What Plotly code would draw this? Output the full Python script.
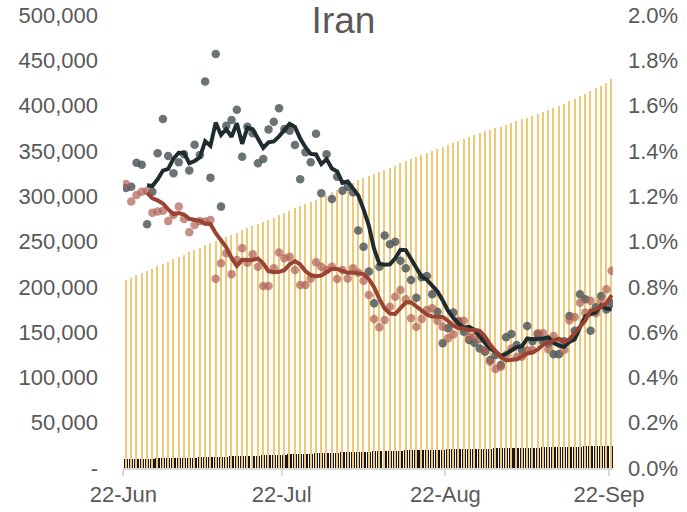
import pandas as pd
import plotly.graph_objects as go

start = "2020-06-22"
n_days = 93

cum_cases = [
    207525, 209970, 212501, 215096, 217724, 220180, 222669, 225205, 227662,
    230211, 232863, 235429, 237878, 240438, 243051, 245688, 248379, 250458, 252720,
    255117, 257303, 259652, 262173, 264561, 267061, 269440, 271606, 273788, 276202,
    278827, 281413, 284034, 286523, 288839, 291172, 293606, 296273, 298909, 301530, 304204,
    306752, 309437, 312035, 314786, 317483, 320117, 322567, 324692, 326712, 328844,
    331189, 333699, 336324, 338825, 341070, 343203, 345450, 347835, 350279, 352558,
    354764, 356792, 358905, 361150, 363363, 365606, 367796, 369911, 371816, 373570, 375212,
    376894, 378752, 380746, 382772, 384666, 386658, 388810, 391112, 393425, 395488,
    397801, 399940, 402029, 404648, 407353, 410334, 413149, 416198, 419043, 422140,
    425481, 429193,
]

cum_deaths = [
    9742, 9863, 9996, 10130, 10239, 10364, 10508, 10670, 10817,
    10958, 11106, 11260, 11408, 11571, 11731, 11931, 12084, 12305, 12447,
    12635, 12829, 13032, 13211, 13410, 13608, 13791, 13979, 14188, 14405,
    14634, 14853, 15074, 15289, 15484, 15700, 15912, 16147, 16343, 16569, 16766,
    16982, 17190, 17405, 17617, 17802, 17976, 18132, 18264, 18427, 18616,
    18800, 18988, 19162, 19331, 19492, 19639, 19804, 19972, 20125, 20264,
    20376, 20502, 20643, 20776, 20901, 21020, 21137, 21249, 21359, 21462, 21571,
    21672, 21797, 21926, 22044, 22154, 22293, 22410, 22542, 22669, 22798,
    22913, 23029, 23157, 23313, 23453, 23632, 23808, 23952, 24118, 24301,
    24478, 24656,
]

# daily rates (percent)
grey_rate = [
    1.236, 1.242, 1.348, 1.339, 1.076, 1.220, 1.390, 1.541, 1.377, 1.301,
    1.350, 1.385, 1.314, 1.427, 1.382, 1.706, 1.282, 1.828, 1.154, 1.511,
    1.536, 1.582, 1.374, 1.507, 1.478, 1.345, 1.364, 1.495, 1.529, 1.588,
    1.497, 1.489, 1.426, 1.275, 1.394, 1.350, 1.476, 1.213, 1.385, 1.188,
    1.286, 1.224, 1.242, 1.217, 1.049, 0.977, 0.867, 0.727, 0.889, 1.026,
    0.988, 0.999, 0.915, 0.882, 0.830, 0.752, 0.842, 0.848, 0.767, 0.690,
    0.551, 0.617, 0.686, 0.646, 0.602, 0.565, 0.553, 0.528, 0.513, 0.477,
    0.499, 0.455, 0.577, 0.592, 0.543, 0.520, 0.627, 0.560, 0.590, 0.560,
    0.550, 0.502, 0.502, 0.560, 0.671, 0.606, 0.767, 0.745, 0.606, 0.710,
    0.759, 0.700, 0.727,
]

red_rate = [
    1.254, 1.177, 1.205, 1.220, 1.223, 1.127, 1.132, 1.136, 1.090, 1.117,
    1.154, 1.099, 1.041, 1.073, 1.090, 1.088, 1.095, 0.836, 0.904, 0.948,
    0.855, 0.918, 0.970, 0.906, 0.944, 0.889, 0.804, 0.804, 0.882, 0.951,
    0.926, 0.933, 0.874, 0.808, 0.808, 0.837, 0.908, 0.889, 0.874, 0.889,
    0.834, 0.874, 0.837, 0.882, 0.862, 0.827, 0.764, 0.658, 0.621, 0.653,
    0.712, 0.756, 0.786, 0.745, 0.661, 0.624, 0.658, 0.698, 0.705, 0.650,
    0.624, 0.573, 0.590, 0.650, 0.650, 0.580, 0.580, 0.570, 0.521, 0.469,
    0.437, 0.447, 0.500, 0.528, 0.490, 0.491, 0.520, 0.521, 0.595, 0.595,
    0.524, 0.583, 0.560, 0.521, 0.652, 0.667, 0.730, 0.686, 0.738, 0.683,
    0.736, 0.789, 0.871,
]

left_tickvals = [0, 50000, 100000, 150000, 200000, 250000, 300000, 350000, 400000, 450000, 500000]
left_ticktext = ["-", "50,000", "100,000", "150,000", "200,000", "250,000", "300,000",
                 "350,000", "400,000", "450,000", "500,000"]
x_tickvals = ["2020-06-22", "2020-07-22", "2020-08-22", "2020-09-22"]
x_ticktext = ["22-Jun", "22-Jul", "22-Aug", "22-Sep"]

dates = pd.date_range(start, periods=n_days, freq="D") + pd.Timedelta(hours=12)
grey = pd.Series(grey_rate) / 100
red = pd.Series(red_rate) / 100
grey_avg = grey.rolling(5).mean()
red_avg = red.rolling(5).mean()

FONT = "Arial, Liberation Sans, sans-serif"
GREY_TXT = "#595959"
DAY_MS = 86400000

fig = go.Figure()
fig.add_trace(go.Bar(x=dates, y=cum_deaths, marker=dict(color="#1b1520", line_width=0),
                     width=0.82 * DAY_MS, yaxis="y"))
fig.add_trace(go.Bar(x=dates, y=cum_cases, marker=dict(color="#efc878", line_width=0),
                     width=0.26 * DAY_MS, yaxis="y"))
fig.add_trace(go.Scatter(x=dates, y=grey, mode="markers", yaxis="y2",
                         marker=dict(size=8.5, color="rgba(80,90,94,0.85)", line_width=0)))
fig.add_trace(go.Scatter(x=dates, y=red, mode="markers", yaxis="y2",
                         marker=dict(size=8.5, color="rgba(174,96,86,0.7)", line_width=0)))
fig.add_trace(go.Scatter(x=dates, y=grey_avg, mode="lines", yaxis="y2",
                         line=dict(color="#1e2c30", width=4)))
fig.add_trace(go.Scatter(x=dates, y=red_avg, mode="lines", yaxis="y2",
                         line=dict(color="#9a4333", width=4)))

fig.update_layout(
    width=687, height=512,
    margin=dict(l=123, r=74, t=15, b=44, autoexpand=False),
    paper_bgcolor="white", plot_bgcolor="white",
    showlegend=False, barmode="overlay", bargap=0,
    font=dict(family=FONT, color=GREY_TXT, size=22),
    title=dict(text="Iran", x=0.5, xanchor="center", y=0.96, yanchor="middle",
               font=dict(size=37, color=GREY_TXT)),
    xaxis=dict(type="date", range=["2020-06-21 22:30", "2020-09-22 18:00"],
               tickvals=x_tickvals, ticktext=x_ticktext, automargin=False,
               showline=True, linecolor="#d9d9d9", linewidth=2,
               ticks="outside", ticklen=6, tickcolor="#d9d9d9", tickwidth=2,
               showgrid=False, zeroline=False),
    yaxis=dict(range=[0, 500000], tickvals=left_tickvals, ticktext=left_ticktext,
               showgrid=False, zeroline=False, showline=False, ticks="", automargin=False,
               ticklabelstandoff=24),
    yaxis2=dict(range=[0, 0.02], overlaying="y", side="right", tickformat=".1%",
                dtick=0.002, showgrid=False, zeroline=False, showline=False, ticks="",
                automargin=False, ticklabelstandoff=14),
)

fig.write_html("out.html", config={"displayModeBar": False},
               post_script="document.body.style.margin='0';")
